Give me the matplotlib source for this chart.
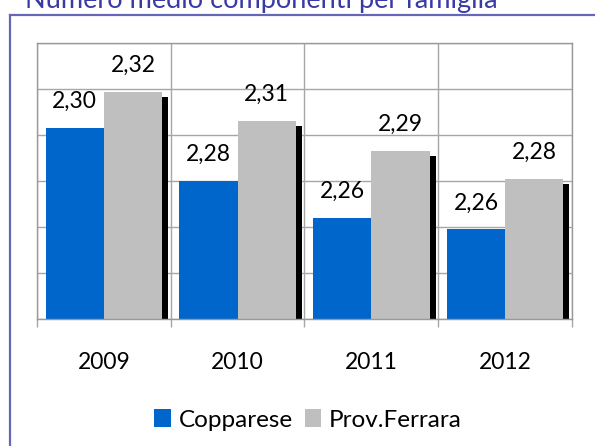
import matplotlib
matplotlib.use("Agg")
import matplotlib.pyplot as plt
from matplotlib.lines import Line2D
from matplotlib.patches import Patch
from matplotlib.transforms import offset_copy
import numpy as np

# data (axis starts at 2,22, not zero)
years = ["2009", "2010", "2011", "2012"]
copparese = [2.303, 2.280, 2.264, 2.259]
ferrara = [2.3185, 2.306, 2.293, 2.281]
title = "Numero medio componenti per famiglia"

blue = "#0066cc"
grey = "#bfbfbf"
grid_col = "#a6a6a6"
frame_col = "#6666b6"

plt.rcParams["font.family"] = ["Lato", "DejaVu Sans"]

fig = plt.figure(figsize=(5.95, 4.46), dpi=100)
ax = fig.add_axes([0.0622, 0.2841, 0.8991, 0.6202])

x = np.arange(len(years))
w = 0.435

# shadow behind the grey bars (6 px right, 5 px down)
shadow_tr = offset_copy(ax.transData, fig=fig, x=6, y=-5, units="dots")
ax.bar(x + w / 2, ferrara, width=w, bottom=0, color="black", transform=shadow_tr, zorder=1)

b1 = ax.bar(x - w / 2, copparese, width=w, color=blue, zorder=2)
b2 = ax.bar(x + w / 2, ferrara, width=w, color=grey, zorder=2)

for bars, vals in [(b1, copparese), (b2, ferrara)]:
    for r, v in zip(bars, vals):
        ax.annotate(f"{v:.2f}".replace(".", ","),
                    (r.get_x() + r.get_width() / 2, v),
                    xytext=(0, 14.4), textcoords="offset points",
                    ha="center", va="baseline", fontsize=16.5, color="black")

ax.set_ylim(2.22, 2.34)
ax.set_xlim(-0.5, len(years) - 0.5)
ax.set_yticks(np.arange(2.22, 2.3401, 0.02))
ax.set_yticklabels([])
ax.tick_params(axis="y", length=0)
ax.grid(axis="y", color=grid_col, linewidth=1)

# category borders as major ticks, labels on minor ticks
ax.set_xticks(np.arange(-0.5, len(years), 1.0))
ax.set_xticklabels([])
ax.set_xticks(x, minor=True)
ax.set_xticklabels(years, minor=True, fontsize=16.5)
ax.tick_params(axis="x", which="major", length=6, color=grid_col, width=1)
ax.tick_params(axis="x", which="minor", length=0, pad=23.5)
ax.grid(axis="x", which="major", color=grid_col, linewidth=1)
ax.set_axisbelow(True)
for s in ax.spines.values():
    s.set_color("#999999")
    s.set_linewidth(1)

handles = [Patch(facecolor=blue, edgecolor="none", label="Copparese"),
           Patch(facecolor=grey, edgecolor="none", label="Prov.Ferrara")]
fig.legend(handles=handles, loc="center", bbox_to_anchor=(0.5176, 0.0583),
           ncol=2, frameon=False, fontsize=17.5, handlelength=0.69,
           handleheight=0.72, handletextpad=0.3, columnspacing=0.5)

# outer frame (top and left only visible)
fig.add_artist(Line2D([10 / 595, 1.0], [1 - 15 / 446, 1 - 15 / 446],
                      transform=fig.transFigure, color=frame_col, linewidth=1.6))
fig.add_artist(Line2D([10 / 595, 10 / 595], [0, 1 - 15 / 446],
                      transform=fig.transFigure, color=frame_col, linewidth=1.6))

# title sits mostly above the top edge, as in the original
fig.text(25 / 595, 1 - 8 / 446, title, fontsize=19.5, color="#3a3aa6",
         ha="left", va="baseline")

fig.savefig("out.png", dpi=100)
